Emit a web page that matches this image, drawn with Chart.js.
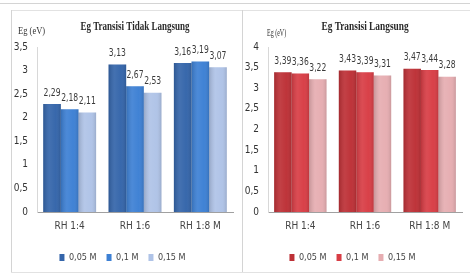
<!DOCTYPE html>
<html>
<head>
<meta charset="utf-8">
<script src="https://cdn.jsdelivr.net/npm/chart.js@4.4.1/dist/chart.umd.min.js"></script>
<style>
  body{margin:0;background:#fff;width:470px;height:276px;overflow:hidden;position:relative;font-family:'Liberation Sans Narrow','DejaVu Sans Condensed',sans-serif;}
  .line{position:absolute;background:#d4d4d4;}
  canvas{position:absolute;}
  .unit{position:absolute;font-family:'Liberation Serif',serif;font-size:10px;color:#333;transform-origin:0 0;}
</style>
</head>
<body>
<div class="line" style="left:0;top:3px;width:470px;height:1px;"></div>
<div class="line" style="left:11px;top:10px;width:459px;height:1px;background:#e2e2e2"></div>
<div class="line" style="left:11px;top:10px;width:1px;height:262px;"></div>
<div class="line" style="left:242px;top:10px;width:1px;height:262px;"></div>
<div class="line" style="left:11px;top:272px;width:459px;height:1px;background:#e2e2e2"></div>
<canvas id="left"></canvas>
<canvas id="right"></canvas>
<div class="unit" style="left:18px;top:25px;transform:scaleX(0.85)">Eg (eV)</div>
<div class="unit" style="left:267px;top:27px;transform:scaleX(0.6)">Eg (eV)</div>
<script>
const categoriesLeft = ["RH 1:4", "RH 1:6", "RH 1:8 M"];
const categoriesRight = ["RH 1:4", "RH 1:6", "RH 1:8 M"];
const seriesNames = ["0,05 M", "0,1 M", "0,15 M"];

// Eg Transisi Tidak Langsung
const indirect005 = [2.29, 3.13, 3.16];
const indirect01 = [2.18, 2.67, 3.19];
const indirect015 = [2.11, 2.53, 3.07];

// Eg Transisi Langsung
const direct005 = [3.39, 3.43, 3.47];
const direct01 = [3.36, 3.39, 3.44];
const direct015 = [3.22, 3.31, 3.28];

const blues = ['#3465aa', '#3d80d4', '#afc3e7'];
const reds = ['#bd3036', '#d83d45', '#e6adb1'];

const narrow = "'Liberation Sans Narrow','DejaVu Sans Condensed',sans-serif";
const comma = v => String(v).replace('.', ',');

// value labels + soft cylinder shading on each bar
const barExtras = {
  id: 'barExtras',
  afterDatasetsDraw(chart){
    const ctx = chart.ctx;
    ctx.save();
    chart.data.datasets.forEach((ds, i) => {
      chart.getDatasetMeta(i).data.forEach(bar => {
        const x0 = bar.x - bar.width / 2, x1 = bar.x + bar.width / 2;
        const g = ctx.createLinearGradient(x0, 0, x1, 0);
        g.addColorStop(0, 'rgba(0,0,0,0.14)');
        g.addColorStop(0.35, 'rgba(255,255,255,0.08)');
        g.addColorStop(0.7, 'rgba(255,255,255,0.02)');
        g.addColorStop(1, 'rgba(0,0,0,0.12)');
        ctx.fillStyle = g;
        ctx.fillRect(x0, bar.y, bar.width, bar.base - bar.y);
      });
    });
    ctx.font = "10px " + narrow;
    ctx.fillStyle = '#3a3a3a';
    ctx.textAlign = 'center';
    ctx.textBaseline = 'bottom';
    chart.data.datasets.forEach((ds, i) => {
      chart.getDatasetMeta(i).data.forEach((bar, j) => {
        const v = ds.data[j];
        ctx.save();
        ctx.translate(bar.x, bar.y - 6);
        ctx.scale(0.85, 1);
        ctx.fillText(v.toFixed(2).replace('.', ','), 0, 0);
        ctx.restore();
      });
    });
    ctx.restore();
  }
};

// condensed serif title, centred over the plot area
const squeezedTitle = {
  id: 'squeezedTitle',
  afterDraw(chart, args, opts){
    const ctx = chart.ctx, a = chart.chartArea;
    ctx.save();
    ctx.font = "bold 12px 'Liberation Serif',serif";
    ctx.fillStyle = '#2a2a2a';
    ctx.textAlign = 'center';
    ctx.textBaseline = 'middle';
    ctx.translate((a.left + a.right) / 2, opts.y);
    ctx.scale(opts.squeeze, 1);
    ctx.fillText(opts.text, 0, 0);
    ctx.restore();
  }
};

function makeChart(id, left, width, cats, data, colors, title, squeeze, max){
  const el = document.getElementById(id);
  el.style.left = left + 'px';
  el.style.top = '4px';
  el.width = width;
  el.height = 268;
  return new Chart(el.getContext('2d'), {
    type: 'bar',
    data: {
      labels: cats,
      datasets: data.map((d, i) => ({
        label: seriesNames[i],
        data: d,
        backgroundColor: colors[i],
        borderWidth: 0,
        barPercentage: 1,
        categoryPercentage: 0.81
      }))
    },
    options: {
      responsive: false,
      animation: false,
      layout: {padding: {left: 0, right: 8, top: 43, bottom: 0}},
      scales: {
        x: {
          grid: {display: false, drawTicks: false},
          border: {color: '#a0a0a0'},
          afterFit(s){ s.height += 3; },
          ticks: {color: '#444', font: {size: 10, family: narrow}, padding: 8}
        },
        y: {
          min: 0, max: max,
          afterFit(s){ s.width = 25; },
          grid: {display: false, drawTicks: false},
          border: {color: '#d8d8d8'},
          ticks: {stepSize: 0.5, color: '#333', padding: 9,
            font: {size: 10, family: narrow},
            callback: v => comma(v)}
        }
      },
      plugins: {
        title: {display: false},
        squeezedTitle: {text: title, squeeze: squeeze, y: 23},
        legend: {position: 'bottom',
          labels: {boxWidth: 5, boxHeight: 7, padding: 10, color: '#444',
            font: {size: 9, family: narrow}}},
        tooltip: {enabled: false}
      }
    },
    plugins: [barExtras, squeezedTitle]
  });
}

makeChart('left', 12, 229, categoriesLeft, [indirect005, indirect01, indirect015], blues, 'Eg Transisi Tidak Langsung', 0.75, 3.5);
makeChart('right', 243, 227, categoriesRight, [direct005, direct01, direct015], reds, 'Eg Transisi Langsung', 0.78, 4);
</script>
</body>
</html>
